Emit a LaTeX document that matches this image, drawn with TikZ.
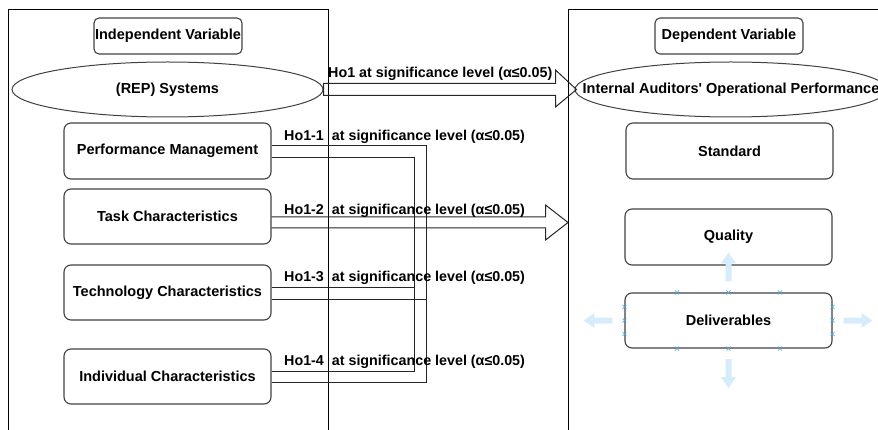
\documentclass[tikz,border=0pt]{standalone}
\usepackage{fontspec}
\setmainfont{Liberation Sans}
\usetikzlibrary{shapes.geometric,calc}
\definecolor{boxline}{HTML}{404040}
\definecolor{handle}{HTML}{D6ECFA}
\definecolor{xmark}{HTML}{3FA9E0}
\begin{document}
\begin{tikzpicture}[x=1pt,y=-1pt,
  lbl/.style={font=\bfseries\fontsize{14.3}{17}\selectfont},
  blbl/.style={font=\bfseries\fontsize{14.5}{17}\selectfont},
  rbox/.style={draw=boxline,line width=1.1pt,rounded corners=7pt,minimum width=207pt,minimum height=55pt,inner sep=0pt,blbl},
  hbox/.style={draw=boxline,line width=1.1pt,rounded corners=5pt,minimum width=148pt,minimum height=36pt,inner sep=0pt,blbl},
  ebox/.style={draw=boxline,line width=1pt,ellipse,inner sep=0pt,blbl},
  cont/.style={draw=black,line width=0.9pt},
  conn/.style={draw=black!85,line width=0.9pt},
  hol/.style={draw=black!85,line width=1pt,line join=miter},
  handlearrow/.pic={\fill[handle] (-3,0)--(-3,-18)--(-7.5,-18)--(0,-29)--(7.5,-18)--(3,-18)--(3,0)--cycle;},
  xm/.pic={\draw[xmark,line width=0.6pt] (-2,-2)--(2,2) (-2,2)--(2,-2);}
]
\useasboundingbox (0,0) rectangle (878,430);
\clip (0,0) rectangle (878,430);
% containers
\node[cont,minimum width=320pt,minimum height=440pt,inner sep=0pt,anchor=north west] (leftc) at (8,9) {};
\node[cont,minimum width=330pt,minimum height=440pt,inner sep=0pt,anchor=north west] (rightc) at (568,9) {};
% left nodes
\node[hbox] (iv) at (168,36) {Independent Variable};
\node[ebox,minimum width=311pt,minimum height=55pt] (rep) at (167.5,89.5) {\makebox[0pt]{(REP) Systems}};
\node[rbox,minimum height=56pt] (pm) at (167.5,151) {Performance Management};
\node[rbox] (tc) at (167.5,216.5) {Task Characteristics};
\node[rbox] (tech) at (167.5,292.5) {Technology Characteristics};
\node[rbox] (ind) at (167.5,376.5) {Individual Characteristics};
% right nodes
\node[hbox] (dv) at (729,36) {Dependent Variable};
\node[ebox,minimum width=312pt,minimum height=55pt] (iaop) at (731,89.5) {\makebox[0pt]{Internal Auditors\textquotesingle\ Operational Performance}};
\node[rbox,minimum height=56pt] (std) at (729.5,151) {Standard};
\node[rbox,minimum height=56pt] (qual) at (728.5,237) {Quality};
\node[rbox] (deli) at (728.5,320.5) {Deliverables};
% Ho1 hollow arrow
\draw[hol] ($(rep.east)+(0,-6)$) -- ++(232,0) -- ++(0,-13.5) -- ($(iaop.west)+(2,0)$)
  -- ($(rep.east)+(232,17.5)$) -- ++(0,-11.5) -- ($(rep.east)+(0,6)$) -- cycle;
\node[lbl,anchor=west,inner sep=0pt] (l0) at (328,74) {Ho1 at significance level (α≤0.05)};
% Ho1-2 hollow arrow
\draw[hol] ($(tc.east)+(0,0.5)$) -- ++(274,0) -- ++(0,-12) -- ($(rightc.west|-tc.east)+(0,6)$)
  -- ($(tc.east)+(274,23.5)$) -- ++(0,-12) -- ($(tc.east)+(0,11.5)$);
% Ho1-1 / Ho1-4 double connector
\draw[conn] ($(pm.east)+(0,-6)$) -- ++(155,0) |- ($(ind.east)+(0,5.5)$);
\draw[conn] ($(pm.east)+(0,6)$) -- ++(143,0) |- ($(ind.east)+(0,-5.5)$);
% Ho1-3
\draw[conn] ($(tech.east)+(0,-5.5)$) -- ++(143,0);
\draw[conn] ($(tech.east)+(0,6.5)$) -- ++(155,0);
% labels
\node[lbl,anchor=west,inner sep=0pt] (l1) at (284,136.5) {Ho1-1 \ at significance level (α≤0.05)};
\node[lbl,anchor=west,inner sep=0pt] (l2) at (284,210.5) {Ho1-2 \ at significance level (α≤0.05)};
\node[lbl,anchor=west,inner sep=0pt] (l3) at (284,277.5) {Ho1-3 \ at significance level (α≤0.05)};
\node[lbl,anchor=west,inner sep=0pt] (l4) at (284,361.5) {Ho1-4 \ at significance level (α≤0.05)};
% selection handles around Deliverables
\pic at ($(deli.north)+(0,-11)$) {handlearrow};
\pic[rotate=180] at ($(deli.south)+(0,10.5)$) {handlearrow};
\pic[rotate=90] at ($(deli.west)+(-12,0)$) {handlearrow};
\pic[rotate=-90] at ($(deli.east)+(11,0)$) {handlearrow};
\foreach \dx in {-51.5,0,51.5}{
  \pic at ($(deli.north)+(\dx,0)$) {xm};
  \pic at ($(deli.south)+(\dx,0)$) {xm};
}
\foreach \dy in {-13.5,0,13.5}{
  \pic at ($(deli.west)+(0,\dy)$) {xm};
  \pic at ($(deli.east)+(0,\dy)$) {xm};
}
\end{tikzpicture}
\end{document}
